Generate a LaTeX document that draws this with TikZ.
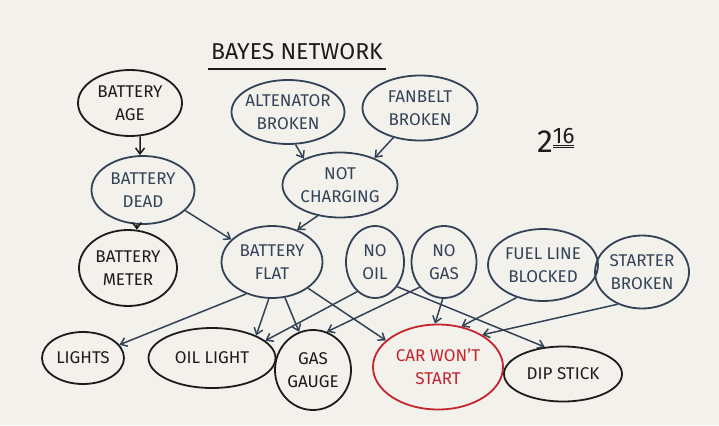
\documentclass[tikz,border=0pt]{standalone}
\usepackage{fontspec}
\setmainfont{Fira Sans}
\usetikzlibrary{shapes.geometric,arrows.meta}
\definecolor{paper}{RGB}{243,241,236}
\definecolor{slate}{RGB}{52,66,86}
\definecolor{ink}{RGB}{28,28,28}
\definecolor{redink}{RGB}{196,36,46}

\begin{document}
\begin{tikzpicture}[x=1pt,y=-1pt,
    var/.style={ellipse, draw, line width=1.8pt, inner sep=-3pt, align=center, font=\fontsize{17}{23}\selectfont},
    cause/.style={var, draw=slate, text=slate},
    obs/.style={var, draw=ink, text=ink},
    goal/.style={var, draw=redink, text=redink},
    arrow/.style={-{Straight Barb[length=6pt,width=9pt]}, line width=1.5pt, slate}
]
\fill[paper] (0,0) rectangle (719,425);

% title
\node[ink, font=\fontsize{23}{26}\selectfont] (title) at (297,52) {BAYES NETWORK};
\draw[ink, line width=1.6pt] ([yshift=-5pt]title.south west) -- ([yshift=-5pt]title.south east);
\node[ink, font=\fontsize{32}{34}\selectfont] (pow) at (556,140) {2\textsuperscript{\underline{\underline{16}}}};

% top row
\node[obs, minimum width=104, minimum height=66] (age) at (130,103) {BATTERY\\AGE};
\node[cause, minimum width=113, minimum height=64] (alt) at (288,112) {ALTENATOR\\BROKEN};
\node[cause, minimum width=115, minimum height=65] (fan) at (420,108) {FANBELT\\BROKEN};

% second row
\node[cause, minimum width=103, minimum height=68] (dead) at (143,190) {BATTERY\\DEAD};
\node[cause, minimum width=115, minimum height=65] (notch) at (340,185) {NOT\\CHARGING};

% third row
\node[obs, minimum width=98, minimum height=76] (meter) at (128,268) {BATTERY\\METER};
\node[cause, minimum width=101, minimum height=72] (flat) at (272,262) {BATTERY\\FLAT};
\node[cause, minimum width=58, minimum height=72] (nooil) at (375,262) {NO\\OIL};
\node[cause, minimum width=65, minimum height=72] (nogas) at (444,262) {NO\\GAS};
\node[cause, minimum width=110, minimum height=72] (fuel) at (543,265) {FUEL LINE\\BLOCKED};
\node[cause, minimum width=94, minimum height=73] (starter) at (642,272) {STARTER\\BROKEN};

% bottom row
\node[obs, minimum width=82, minimum height=52] (lights) at (83,358) {LIGHTS};
\node[obs, minimum width=127, minimum height=60] (oil) at (212,358) {OIL LIGHT};
\node[obs, minimum width=76, minimum height=80] (gas) at (313,370) {GAS\\GAUGE};
\node[goal, minimum width=130, minimum height=85] (car) at (438,367) {CAR WON'T\\START};
\node[obs, minimum width=118, minimum height=55] (dip) at (563,374) {DIP STICK};

\draw[arrow, ink] (age.287) -- (dead.95);
\draw[arrow] (alt.283) -- (notch.144);
\draw[arrow] (fan.228) -- (notch.38);
\draw[arrow, ink] (dead.260) -- (meter.77);
\draw[arrow] (dead.334) -- (flat.151);
\draw[arrow] (notch.234) -- (flat.52);
\draw[arrow] (flat.231) -- (lights.20);
\draw[arrow] (flat.265) -- (oil.27);
\draw[arrow] (flat.290) -- (gas.110);
\draw[arrow] (flat.324) -- (car.153);
\draw[arrow] (nooil.239) -- (oil.18);
\draw[arrow] (nooil.312) -- (dip.124);
\draw[arrow] (nogas.226) -- (gas.70);
\draw[arrow] (nogas.268) -- (car.94);
\draw[arrow] (fuel.231) -- (car.60);
\draw[arrow] (starter.233) -- (car.36);
\end{tikzpicture}
\end{document}
